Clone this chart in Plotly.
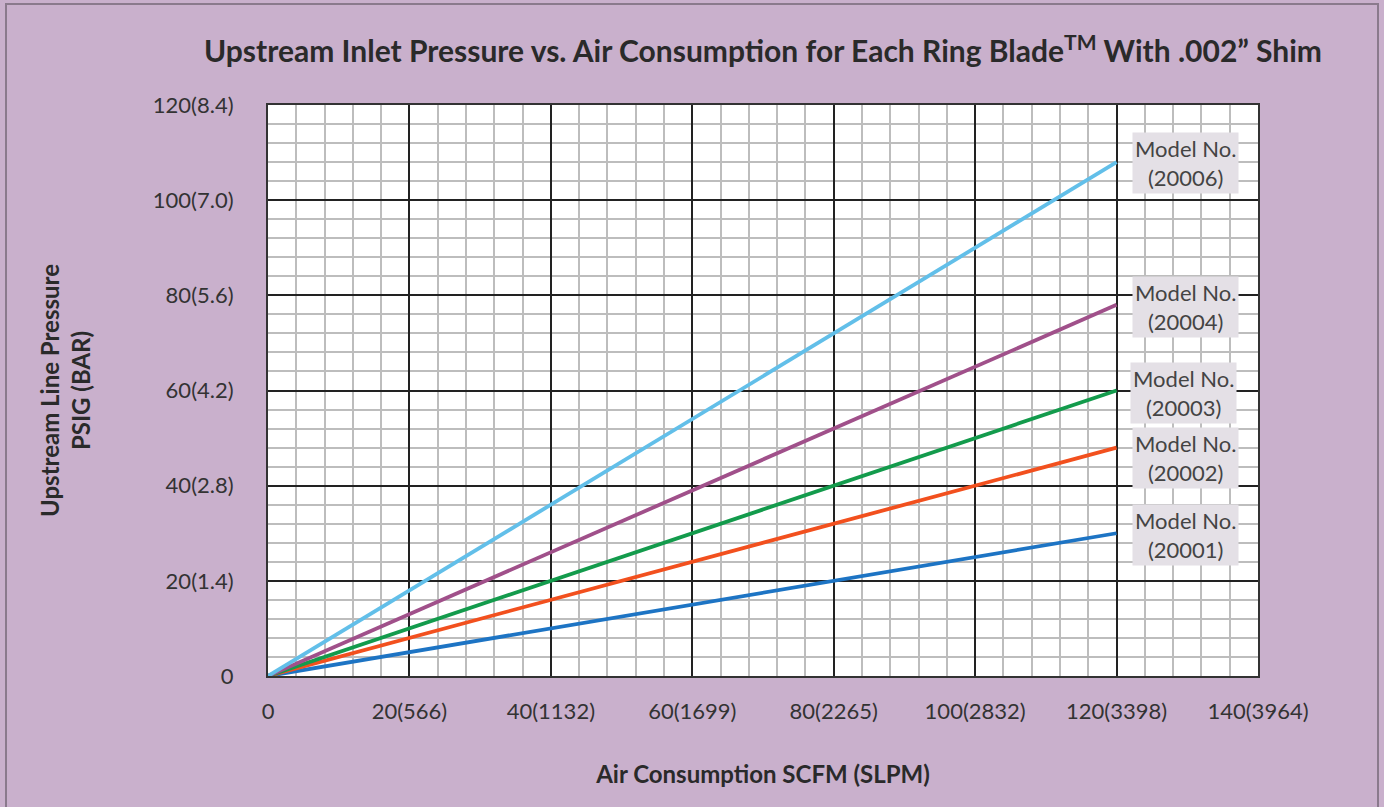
import plotly.graph_objects as go

# Data
models = ["20001", "20002", "20003", "20004", "20006"]
scfm = [0, 120]
psig_20001 = [0, 30]
psig_20002 = [0, 48]
psig_20003 = [0, 60]
psig_20004 = [0, 78]
psig_20006 = [0, 108]
series = [psig_20001, psig_20002, psig_20003, psig_20004, psig_20006]
colors = ["#1D74C4", "#F2501E", "#139B4C", "#A0508A", "#62BFE9"]
label_y = [29.6, 45.8, 59.5, 77.5, 107.8]
label_x = [129.8, 129.8, 129.5, 129.8, 129.7]

x_ticks = [0, 20, 40, 60, 80, 100, 120, 140]
x_ticktext = ["0", "20(566)", "40(1132)", "60(1699)", "80(2265)", "100(2832)", "120(3398)", "140(3964)"]
y_ticks = [0, 20, 40, 60, 80, 100, 120]
y_ticktext = ["0", "20(1.4)", "40(2.8)", "60(4.2)", "80(5.6)", "100(7.0)", "120(8.4)"]

FONT = "Lato"
bg = "#C9B0CC"

fig = go.Figure()
for m, s, c in zip(models, series, colors):
    fig.add_trace(go.Scatter(x=scfm, y=s, mode="lines", name=m,
                             line=dict(color=c, width=3.8), showlegend=False))

for m, lx, ly in zip(models, label_x, label_y):
    fig.add_annotation(x=lx, y=ly, xref="x", yref="y",
                       text=f"Model No.<br>({m})", showarrow=False,
                       font=dict(family=FONT, size=22, color="#444444"),
                       bgcolor="#E4E0E6", borderpad=2, align="center")

fig.update_layout(
    width=1384, height=807,
    margin=dict(l=268, r=126, t=105, b=131),
    paper_bgcolor=bg, plot_bgcolor="white",
    title=dict(text="Upstream Inlet Pressure vs. Air Consumption for Each Ring Blade<sup>TM</sup> With .002\u201d Shim",
               x=0.5513, xanchor="center", y=0.936, yanchor="middle",
               font=dict(family=FONT, size=30, color="#2a2a2a", weight="bold")),
    font=dict(family=FONT, color="#333333"),
)

fig.update_xaxes(range=[0, 140], tickvals=x_ticks, ticktext=x_ticktext,
                 tickfont=dict(family=FONT, size=22, color="#333333"),
                 showgrid=True, gridcolor="#222222", gridwidth=1.5,
                 minor=dict(dtick=4, showgrid=True, gridcolor="#BDBDBD", gridwidth=1.5),
                 showline=True, linecolor="#333333", linewidth=2, mirror=True,
                 zeroline=False, ticks="", ticklabelstandoff=15,
                 title=dict(text="<b>Air Consumption SCFM (SLPM)</b>", standoff=43,
                            font=dict(family=FONT, size=24, color="#2a2a2a")))
fig.update_yaxes(range=[0, 120], tickvals=y_ticks, ticktext=y_ticktext,
                 tickfont=dict(family=FONT, size=22, color="#333333"),
                 showgrid=True, gridcolor="#222222", gridwidth=1.5,
                 minor=dict(dtick=4, showgrid=True, gridcolor="#BDBDBD", gridwidth=1.5),
                 showline=True, linecolor="#333333", linewidth=2, mirror=True,
                 zeroline=False, ticks="", ticklabelstandoff=28,
                 title=dict(text="<b>Upstream Line Pressure<br>PSIG (BAR)</b>", standoff=55,
                            font=dict(family=FONT, size=24, color="#2a2a2a")))

# outer frame
fig.add_shape(type="rect", xref="paper", yref="paper",
              x0=(6 - 268) / 990, x1=(1378 - 268) / 990,
              y0=-0.4, y1=(676 - 4) / 571,
              line=dict(color="#8a7a8c", width=2), fillcolor="rgba(0,0,0,0)", layer="below")

fig.write_html("out.html", config={"displayModeBar": False},
               post_script="document.body.style.margin='0px';document.body.style.padding='0px';")
